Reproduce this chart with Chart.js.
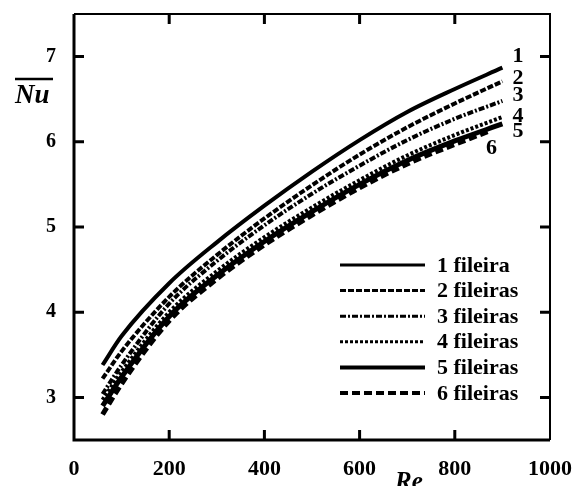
<!DOCTYPE html>
<html>
<head>
<meta charset="utf-8">
<script src="https://cdn.jsdelivr.net/npm/chart.js@4"></script>
<style>
  html, body { margin: 0; padding: 0; background: #fff; }
  #wrap { width: 574px; height: 486px; position: relative; }
</style>
</head>
<body>
<div id="wrap"><canvas id="nuChart"></canvas></div>
<script>
// Re values (x) – curve 6 stops a little earlier
const reValues = [60, 100, 200, 300, 400, 500, 600, 700, 800, 900];
const re6 = [60, 100, 200, 300, 400, 500, 600, 700, 800, 870];

// mean Nusselt number per number of rows
const nu1 = [3.38, 3.72, 4.34, 4.82, 5.25, 5.65, 6.02, 6.35, 6.62, 6.87];
const nu2 = [3.22, 3.54, 4.18, 4.67, 5.10, 5.49, 5.85, 6.17, 6.45, 6.71];
const nu3 = [3.04, 3.38, 4.10, 4.60, 5.02, 5.39, 5.72, 6.02, 6.27, 6.48];
const nu4 = [2.97, 3.30, 4.00, 4.48, 4.88, 5.23, 5.55, 5.84, 6.08, 6.29];
const nu5 = [2.90, 3.24, 3.95, 4.43, 4.83, 5.18, 5.50, 5.78, 6.01, 6.21];
const nu6 = [2.80, 3.16, 3.90, 4.39, 4.79, 5.14, 5.46, 5.74, 5.97, 6.12];

const seriesLabels = ["1 fileira", "2 fileiras", "3 fileiras", "4 fileiras", "5 fileiras", "6 fileiras"];
const endLabels = ["1", "2", "3", "4", "5", "6"];

const xTicks = [0, 200, 400, 600, 800, 1000];
const yTicks = [3, 4, 5, 6, 7];

const serif = "'Liberation Serif', 'DejaVu Serif', serif";

const toPoints = (xs, ys) => xs.map((x, i) => ({ x, y: ys[i] }));

const mk = (label, xs, ys, width, dash) => ({
  label,
  data: toPoints(xs, ys),
  borderColor: "#000",
  borderWidth: width,
  borderDash: dash,
  pointRadius: 0,
  fill: false,
  cubicInterpolationMode: "monotone"
});

const datasets = [
  mk(seriesLabels[0], reValues, nu1, 4, []),
  mk(seriesLabels[1], reValues, nu2, 4, [6, 2]),
  mk(seriesLabels[2], reValues, nu3, 4, [6, 2, 2, 2]),
  mk(seriesLabels[3], reValues, nu4, 4, [3, 2]),
  mk(seriesLabels[4], reValues, nu5, 5, []),
  mk(seriesLabels[5], re6, nu6, 5, [8, 4])
];

// frame with inward ticks, titles, curve numbers and legend
const decorations = {
  id: "decorations",
  afterDatasetsDraw(chart) {
    const { ctx, chartArea: a, scales } = chart;
    ctx.save();
    ctx.strokeStyle = "#000";
    ctx.lineCap = "butt";

    // frame
    ctx.lineWidth = 3;
    ctx.beginPath();
    ctx.moveTo(a.left, a.top); ctx.lineTo(a.left, a.bottom); ctx.lineTo(a.right, a.bottom);
    ctx.stroke();
    ctx.lineWidth = 2;
    ctx.beginPath();
    ctx.moveTo(a.left, a.top); ctx.lineTo(a.right, a.top); ctx.lineTo(a.right, a.bottom);
    ctx.stroke();

    // inward ticks
    const tl = 10;
    ctx.lineWidth = 3;
    scales.x.ticks.forEach((t) => {
      const px = scales.x.getPixelForValue(t.value);
      if (px <= a.left + 2 || px >= a.right - 2) return;
      ctx.beginPath();
      ctx.moveTo(px, a.bottom); ctx.lineTo(px, a.bottom - tl);
      ctx.moveTo(px, a.top); ctx.lineTo(px, a.top + tl);
      ctx.stroke();
    });
    scales.y.ticks.forEach((t) => {
      const py = scales.y.getPixelForValue(t.value);
      ctx.beginPath();
      ctx.moveTo(a.left, py); ctx.lineTo(a.left + tl, py);
      ctx.moveTo(a.right, py); ctx.lineTo(a.right - tl, py);
      ctx.stroke();
    });

    // curve numbers at the line ends
    const offs = [[10, -11], [10, -3], [10, -6], [10, -1], [10, 7], [-2, 17]];
    ctx.fillStyle = "#000";
    ctx.font = "bold 22px " + serif;
    ctx.textAlign = "left";
    ctx.textBaseline = "middle";
    chart.data.datasets.forEach((ds, i) => {
      const last = ds.data[ds.data.length - 1];
      const px = scales.x.getPixelForValue(last.x);
      const py = scales.y.getPixelForValue(last.y);
      ctx.fillText(endLabels[i], px + offs[i][0], py + offs[i][1]);
    });

    // legend inside the plot
    const lx0 = 340, lx1 = 425, tx = 437, y0 = 265, dy = 25.6;
    ctx.font = "bold 22px " + serif;
    chart.data.datasets.forEach((ds, i) => {
      const y = y0 + i * dy;
      ctx.lineWidth = ds.borderWidth - 1;
      ctx.setLineDash(ds.borderDash);
      ctx.beginPath();
      ctx.moveTo(lx0, y); ctx.lineTo(lx1, y);
      ctx.stroke();
      ctx.setLineDash([]);
      ctx.fillText(ds.label, tx, y + 1);
    });

    // axis titles
    ctx.font = "bold italic 27px " + serif;
    ctx.textBaseline = "alphabetic";
    ctx.fillText("Nu", 15, 103);
    ctx.lineWidth = 2.5;
    ctx.beginPath();
    ctx.moveTo(15, 79); ctx.lineTo(53, 79);
    ctx.stroke();
    ctx.font = "bold italic 25px " + serif;
    ctx.fillText("Re", 395, 489);

    ctx.restore();
  }
};

new Chart(document.getElementById("nuChart"), {
  type: "line",
  data: { datasets },
  options: {
    responsive: true,
    maintainAspectRatio: false,
    animation: false,
    layout: { padding: { left: 0, right: 24, top: 14, bottom: 0 } },
    plugins: { legend: { display: false }, tooltip: { enabled: false } },
    scales: {
      x: {
        type: "linear",
        min: 0,
        max: 1000,
        afterBuildTicks: (s) => { s.ticks = xTicks.map((v) => ({ value: v })); },
        afterFit: (s) => { s.height = 46; s.paddingLeft = 0; s.paddingRight = 0; },
        grid: { display: false, drawTicks: false },
        border: { display: false },
        ticks: {
          color: "#000", padding: 16, maxRotation: 0,
          callback: (v) => String(v),
          font: { family: serif, size: 22, weight: "bold" }
        }
      },
      y: {
        type: "linear",
        min: 2.5,
        max: 7.5,
        afterBuildTicks: (s) => { s.ticks = yTicks.map((v) => ({ value: v })); },
        afterFit: (s) => { s.width = 74; s.paddingTop = 0; s.paddingBottom = 0; },
        grid: { display: false, drawTicks: false },
        border: { display: false },
        ticks: { color: "#000", padding: 18, font: { family: serif, size: 20, weight: "bold" } }
      }
    }
  },
  plugins: [decorations]
});
</script>
</body>
</html>
